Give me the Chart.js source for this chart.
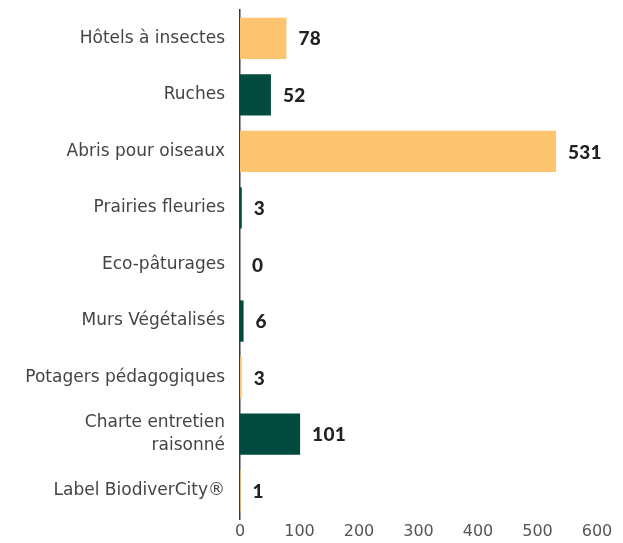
<!DOCTYPE html>
<html>
<head>
<meta charset="utf-8">
<script src="https://cdn.jsdelivr.net/npm/chart.js@4/dist/chart.umd.min.js"></script>
<style>
  html, body { margin: 0; padding: 0; background: #fff; }
  #wrap { width: 623px; height: 543px; }
</style>
</head>
<body>
<div id="wrap"><canvas id="biodivChart"></canvas></div>
<script>
// Aménagements en faveur de la biodiversité
const categories = [
    'Hôtels à insectes',
    'Ruches',
    'Abris pour oiseaux',
    'Prairies fleuries',
    'Eco-pâturages',
    'Murs Végétalisés',
    'Potagers pédagogiques',
    ['Charte entretien', 'raisonné'],
    'Label BiodiverCity®'
];
const counts = [78, 52, 531, 3, 0, 6, 3, 101, 1];
const xTicks = [0, 100, 200, 300, 400, 500, 600];

const ORANGE = '#FDC46F';
const GREEN = '#034A3F';
const barColors = counts.map((v, i) => i % 2 === 0 ? ORANGE : GREEN);

// Writes each value just past the end of its bar
const valueLabels = {
    id: 'valueLabels',
    afterDatasetsDraw(chart) {
        const ctx = chart.ctx;
        const meta = chart.getDatasetMeta(0);
        ctx.save();
        ctx.letterSpacing = '0.3px';
        ctx.font = '900 19px Lato, sans-serif';
        ctx.fillStyle = '#222';
        ctx.textAlign = 'left';
        ctx.textBaseline = 'middle';
        meta.data.forEach((bar, i) => {
            ctx.fillText(String(counts[i]), bar.x + 12, bar.y + 1);
        });
        ctx.restore();
    }
};

const ctx = document.getElementById('biodivChart').getContext('2d');
// slightly airier lettering for the category names
ctx.letterSpacing = '0.6px';

new Chart(ctx, {
    type: 'bar',
    data: {
        labels: categories,
        datasets: [{
            data: counts,
            backgroundColor: barColors,
            borderWidth: 0,
            barPercentage: 0.73,
            categoryPercentage: 1
        }]
    },
    options: {
        indexAxis: 'y',
        responsive: true,
        maintainAspectRatio: false,
        animation: false,
        layout: {
            padding: { top: 10, right: 26, bottom: 0, left: 0 }
        },
        plugins: {
            legend: { display: false },
            tooltip: { enabled: false }
        },
        scales: {
            x: {
                min: 0,
                max: 600,
                afterBuildTicks: (scale) => {
                    scale.ticks = xTicks.map(v => ({ value: v }));
                },
                afterFit: (scale) => { scale.height = 24; },
                grid: { display: false, drawTicks: false },
                border: { display: false },
                ticks: {
                    color: '#555',
                    padding: 3,
                    font: { family: 'DejaVu Sans', size: 16 }
                }
            },
            y: {
                afterFit: (scale) => {
                    scale.width = 240;
                    scale.paddingTop = 0;
                    scale.paddingBottom = 0;
                },
                grid: { display: false, drawTicks: false },
                border: { display: true, color: '#3a3a3a', width: 1.5 },
                ticks: {
                    color: '#444',
                    padding: 15,
                    font: { family: 'DejaVu Sans', size: 17, lineHeight: 1.35 }
                }
            }
        }
    },
    plugins: [valueLabels]
});
</script>
</body>
</html>
